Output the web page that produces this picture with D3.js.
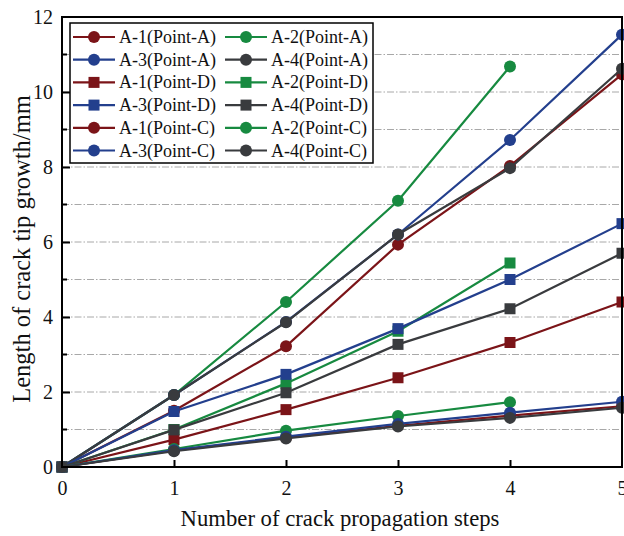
<!DOCTYPE html>
<html>
<head>
<meta charset="utf-8">
<script src="https://cdn.jsdelivr.net/npm/d3@7"></script>
<style>
  body { margin: 0; background: #fff; }
  svg { display: block; font-family: "Liberation Serif", "Times New Roman", serif; }
</style>
</head>
<body>
<div id="chart"></div>
<script>
// data
const steps = [0, 1, 2, 3, 4, 5];
const yTicks = [0, 2, 4, 6, 8, 10, 12];

const a1PointA = [0, 1.5, 3.22, 5.93, 8.03, 10.47];
const a2PointA = [0, 1.92, 4.4, 7.1, 10.68];
const a3PointA = [0, 1.92, 3.87, 6.2, 8.72, 11.53];
const a4PointA = [0, 1.92, 3.86, 6.2, 7.97, 10.62];

const a1PointD = [0, 0.73, 1.53, 2.38, 3.32, 4.4];
const a2PointD = [0, 1.0, 2.23, 3.62, 5.44];
const a3PointD = [0, 1.48, 2.47, 3.69, 5.0, 6.49];
const a4PointD = [0, 0.99, 1.98, 3.27, 4.22, 5.7];

const a1PointC = [0, 0.44, 0.78, 1.1, 1.37, 1.62];
const a2PointC = [0, 0.48, 0.97, 1.36, 1.73];
const a3PointC = [0, 0.45, 0.81, 1.15, 1.45, 1.74];
const a4PointC = [0, 0.42, 0.76, 1.08, 1.31, 1.58];

const colors = {"A-1": "#7b1418", "A-2": "#178a40", "A-3": "#233f8d", "A-4": "#393b3e"};

const series = [
    {name: "A-1(Point-A)", spec: "A-1", shape: "circle", values: a1PointA},
    {name: "A-2(Point-A)", spec: "A-2", shape: "circle", values: a2PointA},
    {name: "A-3(Point-A)", spec: "A-3", shape: "circle", values: a3PointA},
    {name: "A-4(Point-A)", spec: "A-4", shape: "circle", values: a4PointA},
    {name: "A-1(Point-D)", spec: "A-1", shape: "square", values: a1PointD},
    {name: "A-2(Point-D)", spec: "A-2", shape: "square", values: a2PointD},
    {name: "A-3(Point-D)", spec: "A-3", shape: "square", values: a3PointD},
    {name: "A-4(Point-D)", spec: "A-4", shape: "square", values: a4PointD},
    {name: "A-1(Point-C)", spec: "A-1", shape: "circle", values: a1PointC},
    {name: "A-2(Point-C)", spec: "A-2", shape: "circle", values: a2PointC},
    {name: "A-3(Point-C)", spec: "A-3", shape: "circle", values: a3PointC},
    {name: "A-4(Point-C)", spec: "A-4", shape: "circle", values: a4PointC}
];

const W = 624, H = 536;
const margin = {top: 17, right: 2, bottom: 69, left: 62};
const width = W - margin.left - margin.right;
const height = H - margin.top - margin.bottom;

const svg = d3.select("#chart").append("svg")
    .attr("width", W)
    .attr("height", H);

const g = svg.append("g")
    .attr("transform", `translate(${margin.left},${margin.top})`);

const x = d3.scaleLinear().domain([0, 5]).range([0, width]);
const y = d3.scaleLinear().domain([0, 12]).range([height, 0]);

// grid lines (every unit, dash-dot)
g.append("g")
    .selectAll("line")
    .data(d3.range(1, 12))
    .enter().append("line")
    .attr("x1", 0)
    .attr("x2", width)
    .attr("y1", d => y(d))
    .attr("y2", d => y(d))
    .attr("stroke", "#a8a8a8")
    .attr("stroke-width", 1)
    .attr("stroke-dasharray", "7,2,1.5,2");

// axes
const xAxis = d3.axisBottom(x).tickValues(steps).tickSize(-7).tickPadding(14).tickFormat(d3.format("d"));
const yAxis = d3.axisLeft(y).tickValues(yTicks).tickSize(-8).tickPadding(9);

const xg = g.append("g")
    .attr("transform", `translate(0,${height})`)
    .call(xAxis);
const yg = g.append("g").call(yAxis);

[xg, yg].forEach(a => {
    a.select(".domain").remove();
    a.selectAll(".tick line").attr("stroke", "#000").attr("stroke-width", 2);
    a.selectAll("text").attr("font-size", 20).attr("fill", "#111")
        .style("font-family", "Liberation Serif, serif");
});
xg.selectAll(".tick").filter(d => d === 0 || d === 5).select("line").remove();
yg.selectAll(".tick").filter(d => d === 0 || d === 12).select("line").remove();

// minor y ticks
g.append("g")
    .selectAll("line")
    .data(d3.range(1, 12, 2))
    .enter().append("line")
    .attr("x1", 0)
    .attr("x2", 5)
    .attr("y1", d => y(d))
    .attr("y2", d => y(d))
    .attr("stroke", "#000")
    .attr("stroke-width", 2);

// lines and markers
const line = d3.line()
    .x((d, i) => x(steps[i]))
    .y(d => y(d));

series.forEach(s => {
    const sg = g.append("g");
    const c = colors[s.spec];
    sg.append("path")
        .datum(s.values)
        .attr("d", line)
        .attr("fill", "none")
        .attr("stroke", c)
        .attr("stroke-width", 2.2);
    if (s.shape === "circle") {
        sg.selectAll("circle")
            .data(s.values)
            .enter().append("circle")
            .attr("cx", (d, i) => x(steps[i]))
            .attr("cy", d => y(d))
            .attr("r", 6)
            .attr("fill", c);
    } else {
        sg.selectAll("rect")
            .data(s.values)
            .enter().append("rect")
            .attr("x", (d, i) => x(steps[i]) - 5.5)
            .attr("y", d => y(d) - 5.5)
            .attr("width", 11)
            .attr("height", 11)
            .attr("fill", c);
    }
});

// frame
g.append("rect")
    .attr("width", width)
    .attr("height", height)
    .attr("fill", "none")
    .attr("stroke", "#000")
    .attr("stroke-width", 2);

// legend
const legend = g.append("g").attr("transform", "translate(8,6)");
legend.append("rect")
    .attr("width", 303)
    .attr("height", 140)
    .attr("fill", "#fff")
    .attr("stroke", "#000")
    .attr("stroke-width", 1.5);

series.forEach((s, i) => {
    const col = i % 2, row = Math.floor(i / 2);
    const lg = legend.append("g")
        .attr("transform", `translate(${3 + col * 152},${14 + row * 22.7})`);
    const c = colors[s.spec];
    lg.append("line")
        .attr("x1", 0).attr("x2", 42)
        .attr("stroke", c).attr("stroke-width", 2.2);
    if (s.shape === "circle") {
        lg.append("circle").attr("cx", 21).attr("r", 6).attr("fill", c);
    } else {
        lg.append("rect").attr("x", 15.5).attr("y", -5.5)
            .attr("width", 11).attr("height", 11).attr("fill", c);
    }
    lg.append("text")
        .attr("x", 46)
        .attr("y", 6)
        .attr("font-size", 18)
        .attr("fill", "#111")
        .text(s.name);
});

// axis titles
svg.append("text")
    .attr("x", 340)
    .attr("y", 526)
    .attr("text-anchor", "middle")
    .attr("font-size", 22.7)
    .attr("fill", "#111")
    .text("Number of crack propagation steps");

svg.append("text")
    .attr("transform", "translate(30,249) rotate(-90)")
    .attr("text-anchor", "middle")
    .attr("font-size", 24.5)
    .attr("fill", "#111")
    .text("Length of crack tip growth/mm");
</script>
</body>
</html>
